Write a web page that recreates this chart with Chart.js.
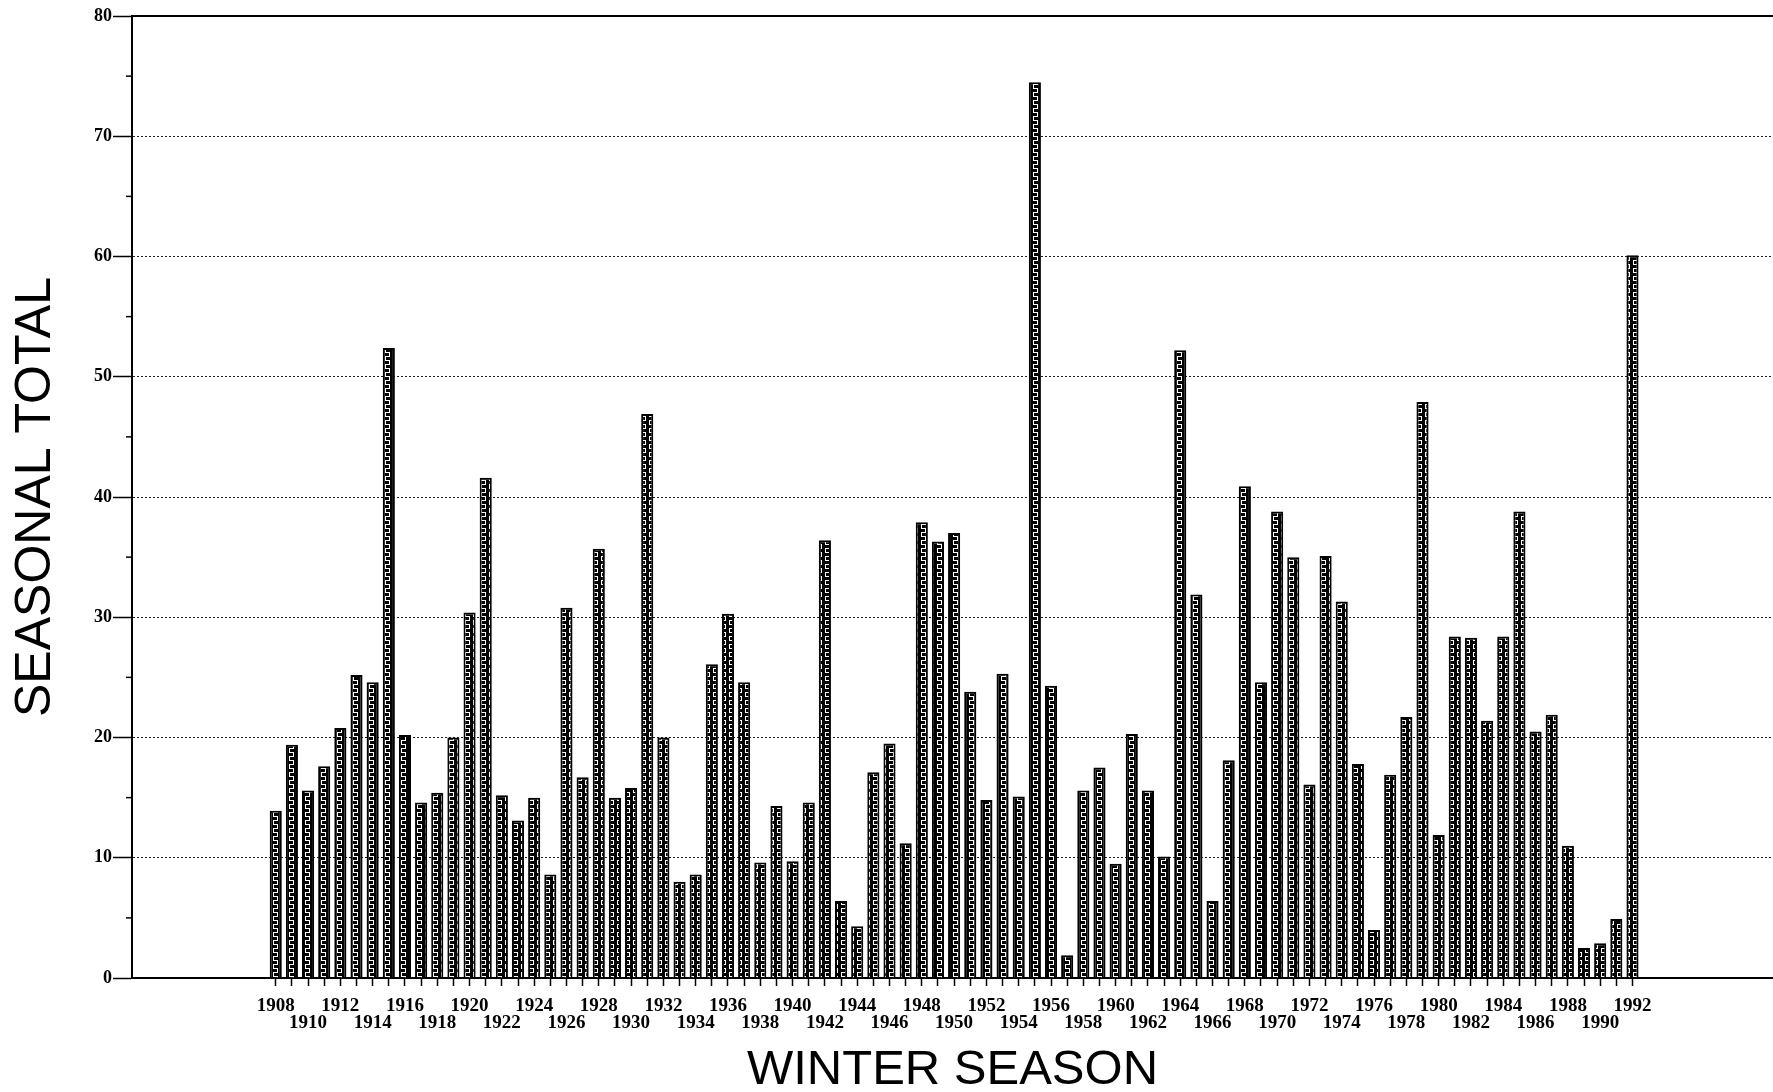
<!DOCTYPE html>
<html>
<head>
<meta charset="utf-8">
<script src="https://cdn.jsdelivr.net/npm/chart.js@4.4.1/dist/chart.umd.min.js"></script>
<style>
  body { margin: 0; background: #fff; }
  #snow-chart { display: block; }
</style>
</head>
<body>
<canvas id="snow-chart" width="1773" height="1092"></canvas>
<script>
// data
const seasons = [
  1908, 1909, 1910, 1911, 1912, 1913, 1914, 1915, 1916, 1917,
  1918, 1919, 1920, 1921, 1922, 1923, 1924, 1925, 1926, 1927,
  1928, 1929, 1930, 1931, 1932, 1933, 1934, 1935, 1936, 1937,
  1938, 1939, 1940, 1941, 1942, 1943, 1944, 1945, 1946, 1947,
  1948, 1949, 1950, 1951, 1952, 1953, 1954, 1955, 1956, 1957,
  1958, 1959, 1960, 1961, 1962, 1963, 1964, 1965, 1966, 1967,
  1968, 1969, 1970, 1971, 1972, 1973, 1974, 1975, 1976, 1977,
  1978, 1979, 1980, 1981, 1982, 1983, 1984, 1985, 1986, 1987,
  1988, 1989, 1990, 1991, 1992,
]
const seasonalTotals = [
  13.9, 19.4, 15.6, 17.6, 20.8, 25.2, 24.6, 52.4, 20.2, 14.6,
  15.4, 20.0, 30.4, 41.6, 15.2, 13.1, 15.0, 8.6, 30.8, 16.7,
  35.7, 15.0, 15.8, 46.9, 20.0, 8.0, 8.6, 26.1, 30.3, 24.6,
  9.6, 14.3, 9.7, 14.6, 36.4, 6.4, 4.3, 17.1, 19.5, 11.2,
  37.9, 36.3, 37.0, 23.8, 14.8, 25.3, 15.1, 74.5, 24.3, 1.9,
  15.6, 17.5, 9.5, 20.3, 15.6, 10.1, 52.2, 31.9, 6.4, 18.1,
  40.9, 24.6, 38.8, 35.0, 16.1, 35.1, 31.3, 17.8, 4.0, 16.9,
  21.7, 47.9, 11.9, 28.4, 28.3, 21.4, 28.4, 38.8, 20.5, 21.9,
  11.0, 2.5, 2.9, 4.9, 60.1,
]
const yTicks = [0, 10, 20, 30, 40, 50, 60, 70, 80]
const yMinorTicks = [5, 15, 25, 35, 45, 55, 65, 75]

const firstSeason = seasons[0]
const lastSeason = seasons[seasons.length - 1]

// meander fill like the old printout
function makeBarPattern() {
  const tile = document.createElement('canvas')
  tile.width = 8
  tile.height = 8
  const t = tile.getContext('2d')
  t.fillStyle = '#000'
  t.fillRect(0, 0, 8, 8)
  t.strokeStyle = '#fff'
  t.lineWidth = 1
  t.beginPath()
  t.moveTo(1, 0.5)
  t.lineTo(6, 0.5)
  t.moveTo(5.5, 1)
  t.lineTo(5.5, 4)
  t.moveTo(6, 4.5)
  t.lineTo(1, 4.5)
  t.moveTo(1.5, 5)
  t.lineTo(1.5, 8)
  t.stroke()
  return document.querySelector('#snow-chart').getContext('2d').createPattern(tile, 'repeat')
}

// top frame line and short minor ticks on the y axis
const framePlugin = {
  id: 'frame',
  afterDraw(chart) {
    const { ctx, chartArea, scales } = chart
    ctx.save()
    ctx.strokeStyle = '#000'
    ctx.lineWidth = 2
    ctx.beginPath()
    ctx.moveTo(chartArea.left, chartArea.top)
    ctx.lineTo(chartArea.right, chartArea.top)
    ctx.stroke()
    ctx.lineWidth = 1.5
    yMinorTicks.forEach((v) => {
      const py = scales.y.getPixelForValue(v)
      ctx.beginPath()
      ctx.moveTo(chartArea.left - 6, py)
      ctx.lineTo(chartArea.left, py)
      ctx.stroke()
    })
    ctx.restore()
  },
}

Chart.defaults.font.family = "'Liberation Serif', serif"
Chart.defaults.color = '#000'

const snowChart = new Chart(document.querySelector('#snow-chart'), {
  type: 'bar',
  data: {
    datasets: [
      {
        label: 'seasonal total',
        data: seasons.map((year, i) => ({ x: year, y: seasonalTotals[i] })),
        backgroundColor: makeBarPattern(),
        borderColor: '#000',
        borderWidth: 2,
        borderSkipped: 'start',
        barPercentage: 0.75,
        categoryPercentage: 1,
      },
    ],
  },
  plugins: [framePlugin],
  options: {
    responsive: false,
    animation: false,
    devicePixelRatio: 1,
    layout: {
      padding: { top: 16, right: 0, bottom: 0, left: 0 },
    },
    plugins: {
      legend: { display: false },
      tooltip: { enabled: false },
    },
    scales: {
      x: {
        type: 'linear',
        min: 1899.1,
        max: 2000.7,
        offset: false,
        grid: {
          offset: false,
          drawOnChartArea: false,
          tickLength: 8,
          tickWidth: 1.5,
          tickColor: (ctx) => {
            const v = ctx.tick && ctx.tick.value
            return v >= firstSeason && v <= lastSeason ? '#000' : 'rgba(0,0,0,0)'
          },
        },
        border: { color: '#000', width: 2 },
        ticks: {
          stepSize: 1,
          autoSkip: false,
          maxRotation: 0,
          includeBounds: false,
          padding: 11,
          font: { size: 19, weight: 'bold', lineHeight: 0.92 },
          callback: (value) => {
            if (value < firstSeason || value > lastSeason || value % 2 !== 0) return ''
            return value % 4 === 0 ? String(value) : ['', String(value)]
          },
        },
        title: {
          display: true,
          text: 'WINTER SEASON',
          font: { family: "'Liberation Sans', Arial, sans-serif", size: 49, lineHeight: 0.8 },
          padding: { top: 0, bottom: 2 },
        },
        afterFit: (scale) => {
          scale.height = 114
        },
      },
      y: {
        min: 0,
        max: 80,
        grid: {
          tickLength: 19,
          tickWidth: 1.5,
          tickColor: '#000',
          lineWidth: 1,
          color: (ctx) => {
            const v = ctx.tick && ctx.tick.value
            return v === 0 || v === 80 ? 'rgba(0,0,0,0)' : '#222'
          },
        },
        border: { color: '#000', width: 2, dash: [2, 2] },
        ticks: {
          stepSize: 10,
          padding: 1,
          font: { size: 18, weight: 'bold' },
        },
        title: {
          display: true,
          text: 'SEASONAL TOTAL',
          font: { family: "'Liberation Sans', Arial, sans-serif", size: 50, lineHeight: 1 },
          padding: { top: 11, bottom: 0 },
        },
        afterFit: (scale) => {
          scale.width = 132
        },
      },
    },
  },
})
</script>
</body>
</html>
